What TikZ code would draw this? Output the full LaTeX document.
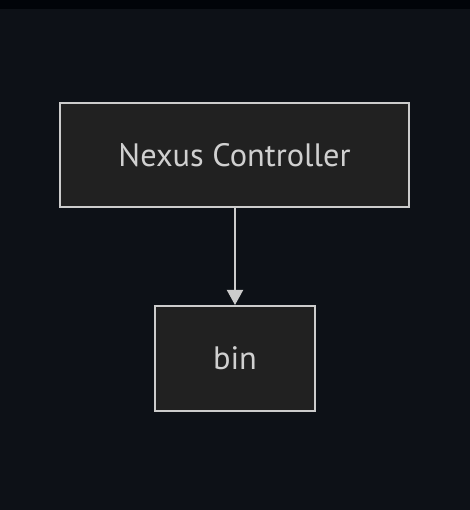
\documentclass[tikz,border=0pt]{standalone}
\usepackage{fontspec}
\setmainfont{PT Sans}
\usetikzlibrary{arrows.meta}
\definecolor{bgc}{HTML}{0D1117}
\definecolor{topc}{HTML}{010409}
\definecolor{boxfill}{HTML}{212121}
\definecolor{boxline}{HTML}{CCCCCC}
\definecolor{txt}{HTML}{D0D0D0}
\begin{document}
\begin{tikzpicture}[x=1bp,y=1bp,
  box/.style={draw=boxline, fill=boxfill, line width=2bp, inner sep=0pt, text=txt, font=\fontsize{32.5}{38}\selectfont},
  conn/.style={draw=boxline, line width=2bp, -{Triangle[length=15bp,width=16bp]}}]
\fill[bgc] (0,0) rectangle (470,510);
\fill[topc] (0,501) rectangle (470,510);
\useasboundingbox (0,0) rectangle (470,510);
\node[box, minimum width=349bp, minimum height=104bp] (nc) at (234.5,355) {Nexus Controller};
\node[box, minimum width=160bp, minimum height=105bp] (bin) at (235,151.5) {bin};
\draw[conn] (nc.south -| 235,0) -- (bin.north -| 235,0);
\end{tikzpicture}
\end{document}
